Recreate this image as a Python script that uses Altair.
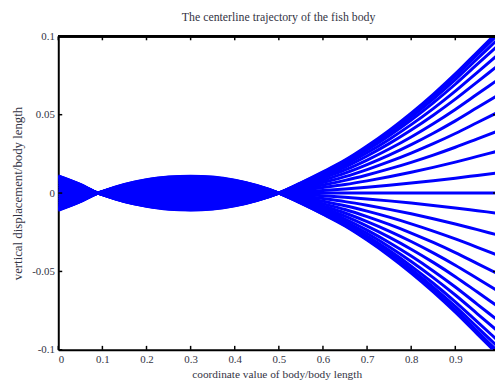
import altair as alt
import pandas as pd

# Envelope of the body wave (signed, per x along the body)
env_x = [0.0, 0.05, 0.09, 0.1, 0.15, 0.2, 0.25, 0.3, 0.35, 0.4, 0.45, 0.5,
         0.55, 0.6, 0.65, 0.7, 0.75, 0.8, 0.85, 0.9, 0.95, 1.0]
env_y = [0.011, 0.0055, 0.0, -0.001, -0.0055, -0.0085, -0.0103, -0.0108, -0.0102,
         -0.0082, -0.0048, 0.0, 0.0065, 0.0135, 0.021, 0.030, 0.040, 0.051, 0.063,
         0.076, 0.090, 0.104]
# Tail-tip displacement of each drawn centerline (read at the right edge)
tail_y = [0.104, 0.102, 0.099, 0.095, 0.089, 0.082, 0.073, 0.063, 0.052, 0.040, 0.027, 0.013,
          0.0,
          -0.013, -0.027, -0.040, -0.052, -0.063, -0.073, -0.082, -0.089, -0.095, -0.099, -0.102, -0.104]

x_ticks = [0, 0.1, 0.2, 0.3, 0.4, 0.5, 0.6, 0.7, 0.8, 0.9]
y_ticks = [-0.1, -0.05, 0, 0.05, 0.1]

rows = []
for j, t in enumerate(tail_y):
    for x, e in zip(env_x, env_y):
        rows.append({"line": j, "x": x, "y": e * t / env_y[-1]})
df = pd.DataFrame(rows)

W, H = 443, 318
FONT = "Liberation Serif"
TXT = "#333344"

xs = alt.Scale(domain=[0, 0.99], nice=False, zero=False)
ys = alt.Scale(domain=[-0.1, 0.1], nice=False, zero=False)

lines = alt.Chart(df).mark_line(
    color="#0000ff", strokeWidth=3, clip=True, interpolate="monotone"
).encode(
    x=alt.X("x:Q", scale=xs, axis=alt.Axis(
        values=x_ticks, labelExpr="'' + datum.value", ticks=False, grid=False,
        domainColor="black", domainWidth=2, labelPadding=4,
        labelFont=FONT, labelFontSize=11, labelColor=TXT,
        title="coordinate value of body/body length", titleFont=FONT,
        titleFontSize=11.5, titleFontWeight="normal", titleColor=TXT, titlePadding=4)),
    y=alt.Y("y:Q", scale=ys, axis=alt.Axis(
        values=y_ticks, labelExpr="'' + datum.value", ticks=False, grid=False,
        domainColor="black", domainWidth=2, labelPadding=4,
        labelFont=FONT, labelFontSize=11, labelColor=TXT,
        title="vertical displacement/body length", titleFont=FONT,
        titleFontSize=13, titleFontWeight="normal", titleColor=TXT, titlePadding=7)),
    detail="line:N",
)

xt = pd.DataFrame({"x": x_ticks})
yt = pd.DataFrame({"y": y_ticks})

bottom_ticks = alt.Chart(xt).mark_rule(color="black", strokeWidth=1.5).encode(
    x=alt.X("x:Q", scale=xs), y=alt.value(H), y2=alt.value(H - 4))
top_ticks = alt.Chart(xt).mark_rule(color="black", strokeWidth=1.5).encode(
    x=alt.X("x:Q", scale=xs), y=alt.value(0), y2=alt.value(4))
left_ticks = alt.Chart(yt).mark_rule(color="black", strokeWidth=1.5).encode(
    y=alt.Y("y:Q", scale=ys), x=alt.value(0), x2=alt.value(4))
right_ticks = alt.Chart(yt).mark_rule(color="black", strokeWidth=1.5).encode(
    y=alt.Y("y:Q", scale=ys), x=alt.value(W - 2), x2=alt.value(W))
top_border = alt.Chart(xt).mark_rule(color="black", strokeWidth=2).encode(
    x=alt.value(0), x2=alt.value(W + 2), y=alt.value(0))

chart = alt.layer(lines, bottom_ticks, top_ticks, left_ticks, right_ticks, top_border).properties(
    width=W, height=H,
    title=alt.TitleParams("The centerline trajectory of the fish body", font=FONT,
                          fontSize=12, fontWeight="normal", color=TXT, offset=7, dx=2),
    autosize=alt.AutoSizeParams(type="none"),
    padding={"left": 51, "top": 26, "right": 0, "bottom": 35},
).configure_view(stroke=None).configure(background="white")

chart.save("out.html", embed_options={"renderer": "svg", "actions": False})
